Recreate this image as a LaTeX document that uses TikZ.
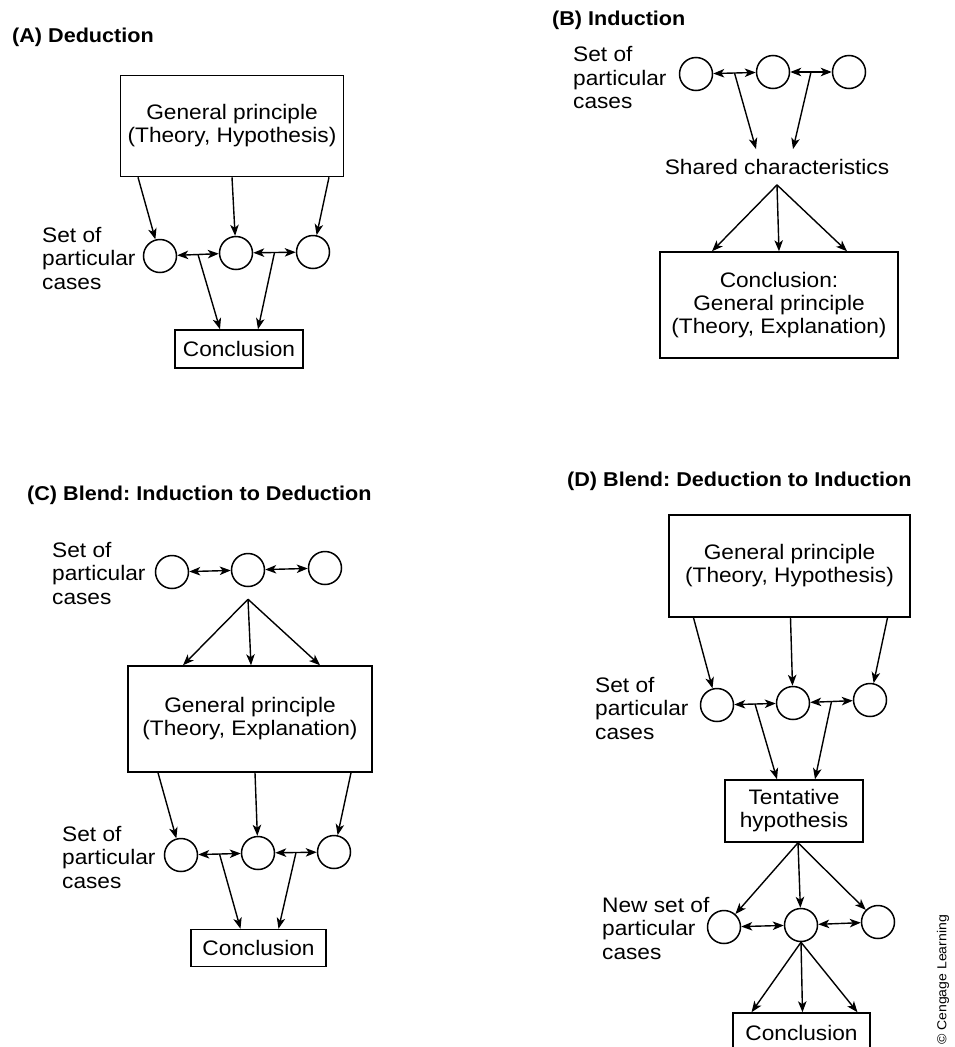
\documentclass[tikz,border=0pt]{standalone}
\usepackage{fontspec}
\setmainfont[FakeStretch=1.08]{Liberation Sans}
\usetikzlibrary{arrows.meta,calc}
\frenchspacing

\begin{document}
\begin{tikzpicture}[x=1pt,y=-1pt,
    box/.style={draw,line width=1.5pt,align=center,inner sep=0pt,font=\fontsize{21}{23}\selectfont},
    case/.style={draw,circle,line width=1.5pt,minimum size=33pt,inner sep=0pt},
    lbl/.style={anchor=west,align=left,inner sep=0pt,font=\fontsize{21}{23.5}\selectfont},
    txt/.style={inner xsep=0pt,inner ysep=10pt,font=\fontsize{21}{23}\selectfont},
    ttl/.style={anchor=west,inner sep=0pt,font=\fontsize{20}{24}\selectfont\bfseries},
    arr/.style={-{Stealth[length=11pt,width=8.5pt,inset=3pt]},line width=1.4pt},
    darr/.style={{Stealth[length=11pt,width=8.5pt,inset=3pt]}-{Stealth[length=11pt,width=8.5pt,inset=3pt]},line width=1.4pt}]
    \useasboundingbox (0,0) rectangle (954,1047);

    % (A)
    \node[ttl] (tA) at (12,37) {(A) Deduction};
    \node[box,minimum width=223pt,minimum height=101pt] (gpA) at (232,126) {General principle\\(Theory, Hypothesis)};
    \node[case] (a1) at (160,256) {};
    \node[case] (a2) at (236,253) {};
    \node[case] (a3) at (313,252) {};
    \node[lbl] (sA) at (42,258) {Set of\\particular\\cases};
    \node[box,minimum width=128pt,minimum height=38pt] (conA) at (239,349) {Conclusion};
    \draw[arr] ([xshift=-94pt]gpA.south) -- (a1);
    \draw[arr] (gpA.south) -- (a2);
    \draw[arr] ([xshift=97pt]gpA.south) -- (a3);
    \draw[darr] (a1) -- (a2);
    \draw[darr] (a2) -- (a3);
    \draw[arr] ($(a1)!.5!(a2)$) -- ([xshift=-19pt]conA.north);
    \draw[arr] ($(a2)!.5!(a3)$) -- ([xshift=19pt]conA.north);

    % (B)
    \node[ttl] (tB) at (552,20) {(B) Induction};
    \node[lbl] (sB) at (573,78) {Set of\\particular\\cases};
    \node[case] (b1) at (696,74) {};
    \node[case] (b2) at (773,72) {};
    \node[case] (b3) at (849,72) {};
    \node[txt] (shB) at (777,167) {Shared characteristics};
    \node[box,minimum width=238pt,minimum height=106pt] (bxB) at (779,305) {Conclusion:\\General principle\\(Theory, Explanation)};
    \draw[darr] (b1) -- (b2);
    \draw[darr] (b2) -- (b3);
    \draw[arr] ($(b1)!.5!(b2)$) -- ([xshift=-21pt]shB.north);
    \draw[arr] ($(b2)!.5!(b3)$) -- ([xshift=16pt]shB.north);
    \draw[arr] (shB.south) -- ([xshift=-67pt]bxB.north);
    \draw[arr] (shB.south) -- (bxB.north);
    \draw[arr] (shB.south) -- ([xshift=68pt]bxB.north);

    % (C)
    \node[ttl] (tC) at (27,495) {(C) Blend: Induction to Deduction};
    \node[lbl] (sC) at (52,573) {Set of\\particular\\cases};
    \node[case] (c1) at (172,572) {};
    \node[case] (c2) at (248,570) {};
    \node[case] (c3) at (325,568) {};
    \coordinate (cT) at ($(c2.south)+(0,12)$);
    \node[box,minimum width=244pt,minimum height=106pt] (gpC) at (250,719) {General principle\\(Theory, Explanation)};
    \node[lbl] (sC2) at (62,857) {Set of\\particular\\cases};
    \node[case] (e1) at (181,855) {};
    \node[case] (e2) at (258,853) {};
    \node[case] (e3) at (334,852) {};
    \node[box,minimum width=135pt,minimum height=37pt] (conC) at (258.5,948) {Conclusion};
    \draw[darr] (c1) -- (c2);
    \draw[darr] (c2) -- (c3);
    \draw[arr] (cT) -- ([xshift=-67pt]gpC.north);
    \draw[arr] (cT) -- ([xshift=1pt]gpC.north);
    \draw[arr] (cT) -- ([xshift=70pt]gpC.north);
    \draw[arr] ([xshift=-92pt]gpC.south) -- (e1);
    \draw[arr] ([xshift=5pt]gpC.south) -- (e2);
    \draw[arr] ([xshift=101pt]gpC.south) -- (e3);
    \draw[darr] (e1) -- (e2);
    \draw[darr] (e2) -- (e3);
    \draw[arr] ($(e1)!.5!(e2)$) -- ([xshift=-18pt]conC.north);
    \draw[arr] ($(e2)!.5!(e3)$) -- ([xshift=20pt]conC.north);

    % (D)
    \node[ttl] (tD) at (567,481) {(D) Blend: Deduction to Induction};
    \node[box,minimum width=241pt,minimum height=102pt] (gpD) at (789.5,566) {General principle\\(Theory, Hypothesis)};
    \node[lbl] (sD) at (595,708) {Set of\\particular\\cases};
    \node[case] (f1) at (717,705) {};
    \node[case] (f2) at (793,703) {};
    \node[case] (f3) at (870,700) {};
    \node[box,minimum width=138pt,minimum height=62pt] (tnD) at (794,811) {Tentative\\hypothesis};
    \node[lbl] (sD2) at (602,928) {New set of\\particular\\cases};
    \node[case] (g1) at (724,927) {};
    \node[case] (g2) at (801,925) {};
    \node[case] (g3) at (878,922) {};
    \node[box,minimum width=137pt,minimum height=40pt] (conD) at (801.5,1033) {Conclusion};
    \node[rotate=90,inner sep=0pt,font=\fontsize{13}{15}\selectfont] (cpy) at (943,980) {© Cengage Learning};
    \draw[arr] ([xshift=-96pt]gpD.south) -- (f1);
    \draw[arr] ([xshift=1pt]gpD.south) -- (f2);
    \draw[arr] ([xshift=98pt]gpD.south) -- (f3);
    \draw[darr] (f1) -- (f2);
    \draw[darr] (f2) -- (f3);
    \draw[arr] ($(f1)!.5!(f2)$) -- ([xshift=-17pt]tnD.north);
    \draw[arr] ($(f2)!.5!(f3)$) -- ([xshift=21pt]tnD.north);
    \draw[arr] ([xshift=4pt]tnD.south) -- (g1);
    \draw[arr] ([xshift=4pt]tnD.south) -- (g2);
    \draw[arr] ([xshift=4pt]tnD.south) -- (g3);
    \draw[darr] (g1) -- (g2);
    \draw[darr] (g2) -- (g3);
    \draw[arr] (g2.south) -- ([xshift=-50pt]conD.north);
    \draw[arr] (g2.south) -- ([xshift=1pt]conD.north);
    \draw[arr] (g2.south) -- ([xshift=56pt]conD.north);
\end{tikzpicture}
\end{document}
